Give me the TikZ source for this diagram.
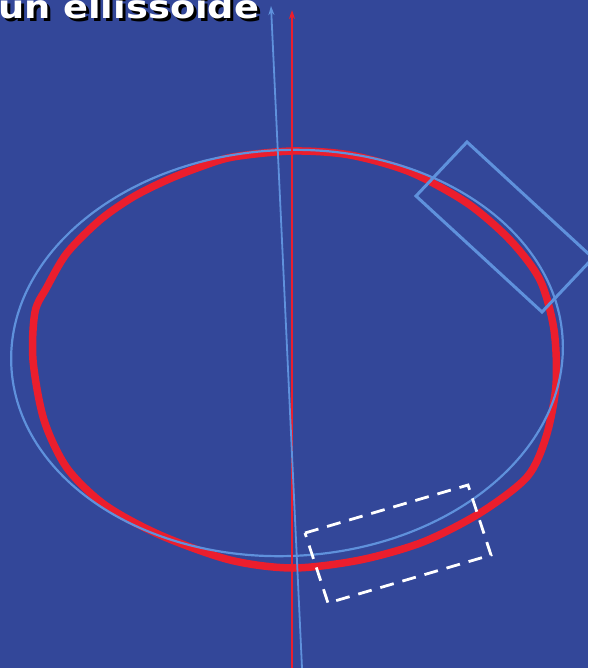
\documentclass[tikz,border=0pt]{standalone}
\usepackage{fontspec}
\newfontfamily\titlefont[FakeStretch=1.15]{DejaVu Sans}
\usetikzlibrary{arrows.meta}
\definecolor{slide}{RGB}{51, 71, 153}
\definecolor{axisblue}{RGB}{95, 145, 220}
\definecolor{curvered}{RGB}{235, 30, 45}

\begin{document}
\begin{tikzpicture}[x=1pt, y=-1pt,
    blueline/.style={draw=axisblue, line width=2.2pt},
    redline/.style={draw=curvered, line width=7.5pt, line join=round},
    axisarr/.style={-{Stealth[length=9pt, width=6pt]}, line width=1.8pt},
    dashbox/.style={draw=white, line width=2.8pt, dash pattern=on 14pt off 9pt},
    title/.style={font=\titlefont\fontsize{32}{32}\selectfont\bfseries, anchor=base west, inner sep=0pt}
  ]

  % ── Background ─────────────────────────────────────────────────
  \fill[slide] (0,0) rectangle (588,668);
  \clip (0,0) rectangle (588,668);

  % ── Title ──────────────────────────────────────────────────────
  \node[title, text=black] (titleshadow) at (1,22) {un ellissoide};
  \node[title, text=white] (titletext)   at (-2,19) {un ellissoide};

  % ── Red (measured) curve ───────────────────────────────────────
  \draw[redline] plot[smooth cycle, tension=0.5] coordinates {
    (293,151) (350,155) (410,172) (467,203) (510,240) (540,280)
    (554,330) (556,385) (546,437) (527,477) (480,513) (423,542)
    (360,560) (293,568) (230,560) (160,535) (105,505) (67,468)
    (44,420) (33,360) (35,312) (47,287) (67,253) (100,220)
    (133,197) (167,180) (200,167) (233,157)};

  % ── Blue (reference) ellipse ───────────────────────────────────
  \draw[blueline, rotate around={2.6:(287,353)}]
    (287,353) ellipse [x radius=276, y radius=203];

  % ── Blue box, top right ────────────────────────────────────────
  \draw[blueline, line width=3pt, line join=miter]
    (467,142) -- (593,258) -- (542,312) -- (416,196) -- cycle;

  % ── Axes ───────────────────────────────────────────────────────
  \coordinate (redfoot) at (292,668);
  \coordinate (redtip)  at (292,10);
  \coordinate (bluefoot) at (302,668);
  \coordinate (bluetip)  at (271,6);

  \draw[axisarr, curvered] (redfoot) -- (redtip);
  \draw[axisarr, axisblue] (bluefoot) -- (bluetip);

  % ── Dashed box, bottom ─────────────────────────────────────────
  \draw[dashbox]
    (305,533) -- (468,485) -- (491,555) -- (328,603) -- cycle;

\end{tikzpicture}
\end{document}
